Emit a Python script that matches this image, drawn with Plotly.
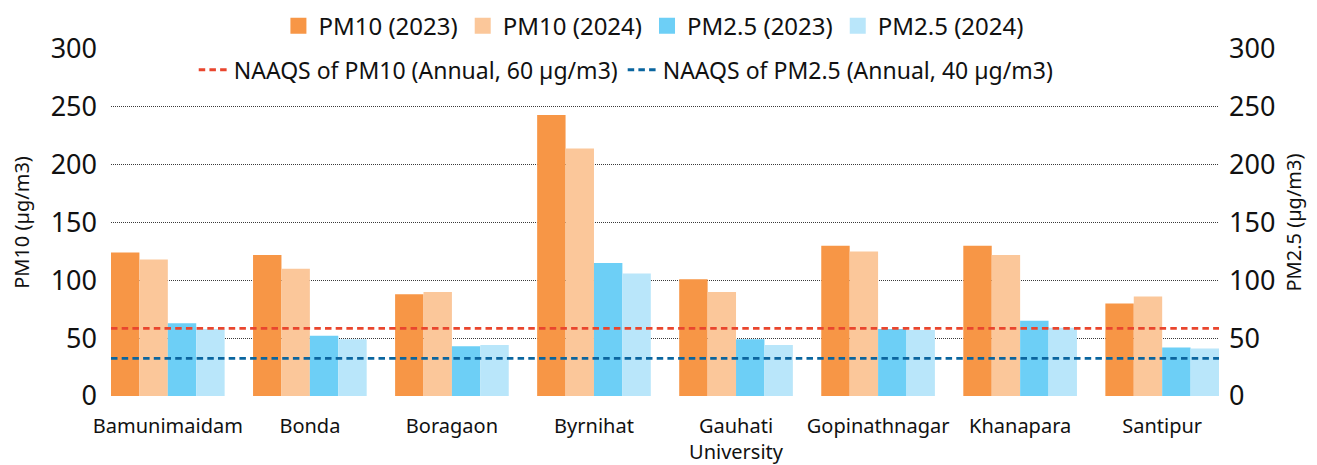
import plotly.graph_objects as go

categories = ["Bamunimaidam", "Bonda", "Boragaon", "Byrnihat", "Gauhati<br>University",
              "Gopinathnagar", "Khanapara", "Santipur"]
pm10_2023 = [124, 122, 88, 243, 101, 130, 130, 80]
pm10_2024 = [118, 110, 90, 214, 90, 125, 122, 86]
pm25_2023 = [63, 52, 43, 115, 49, 58, 65, 42]
pm25_2024 = [58, 49, 44, 106, 44, 57, 59, 41]

# NAAQS reference lines (level as drawn in the picture)
naaqs_names = ["NAAQS of PM10 (Annual, 60 µg/m3)", "NAAQS of PM2.5 (Annual, 40 µg/m3)"]
naaqs_levels = [58.5, 32.6]
naaqs_colors = ["#E9462E", "#0A659F"]

bar_names = ["PM10 (2023)", "PM10 (2024)", "PM2.5 (2023)", "PM2.5 (2024)"]
bar_values = [pm10_2023, pm10_2024, pm25_2023, pm25_2024]
bar_colors = ["#F79646", "#FBC79A", "#6DCFF6", "#B9E6FA"]

FONT = "Noto Sans"
TXT = "#111111"

fig = go.Figure()
for name, vals, col in zip(bar_names, bar_values, bar_colors):
    fig.add_trace(go.Bar(x=categories, y=vals, name=name, marker=dict(color=col, line=dict(width=0)),
                         showlegend=False))
    fig.add_trace(go.Scatter(x=[None], y=[None], mode="markers", name=name,
                             marker=dict(symbol="square", size=18, color=col),
                             legend="legend"))

for name, lvl, col in zip(naaqs_names, naaqs_levels, naaqs_colors):
    fig.add_trace(go.Scatter(x=[0, 1], y=[lvl, lvl], mode="lines", name=name, xaxis="x2",
                             line=dict(color=col, width=2.8, dash="6.5px,4.2px"),
                             legend="legend2", hoverinfo="skip"))

fig.add_trace(go.Scatter(x=[None], y=[None], yaxis="y2", showlegend=False, hoverinfo="skip"))

grid = dict(showgrid=True, gridcolor="#3a3a3a", gridwidth=1, griddash="1px,1px", zeroline=False)
yticks = [0, 50, 100, 150, 200, 250, 300]

fig.update_layout(
    width=1309, height=457,
    margin=dict(l=103, r=98, t=41, b=69, autoexpand=False),
    paper_bgcolor="white", plot_bgcolor="white",
    font=dict(family=FONT, color=TXT),
    barmode="group", bargap=0.2, bargroupgap=0,
    xaxis=dict(type="category", range=[-0.4, 7.4], showgrid=False, showline=False,
               tickfont=dict(size=20, family=FONT, color=TXT), ticks="",
               ticklabelstandoff=16),
    xaxis2=dict(overlaying="x", range=[0, 1], visible=False),
    yaxis=dict(range=[0, 300], tickvals=yticks,
               tickfont=dict(size=27, family=FONT, color=TXT), ticks="",
               ticklabelstandoff=13,
               title=dict(text="PM10 (µg/m3)", font=dict(size=20, family=FONT, color=TXT), standoff=22),
               **grid),
    yaxis2=dict(overlaying="y", side="right", range=[0, 300], tickvals=yticks,
                showgrid=False, zeroline=False,
                tickfont=dict(size=27, family=FONT, color=TXT), ticks="",
                ticklabelstandoff=9,
                title=dict(text="PM2.5 (µg/m3)", font=dict(size=20, family=FONT, color=TXT), standoff=12)),
    legend=dict(orientation="h", x=0.49, xanchor="center", y=1.066, yanchor="middle",
                font=dict(size=24, family=FONT, color=TXT), itemwidth=30,
                bgcolor="rgba(0,0,0,0)", tracegroupgap=0),
    legend2=dict(orientation="h", x=0.465, xanchor="center", y=0.94, yanchor="middle",
                 font=dict(size=23, family=FONT, color=TXT), itemwidth=30,
                 bgcolor="rgba(0,0,0,0)"),
)

fig.write_html("out.html")
